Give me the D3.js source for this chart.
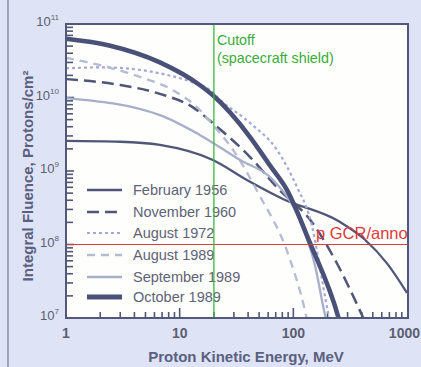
<!DOCTYPE html>
<html>
<head>
<meta charset="utf-8">
<script src="https://cdn.jsdelivr.net/npm/d3@7"></script>
<style>
  html, body { margin: 0; padding: 0; background: #dee3f5; }
  svg { display: block; font-family: "Liberation Sans", Arial, Helvetica, sans-serif; }
</style>
</head>
<body>
<svg id="chart" width="421" height="367"></svg>
<script>
// Integral proton fluence spectra of major solar particle events
const seriesNames = ["February 1956", "November 1960", "August 1972",
                     "August 1989", "September 1989", "October 1989"];

// Energy (MeV) and integral fluence (protons/cm²) for each event
const feb1956E = [1, 3, 6.7, 19.6, 39, 81, 256, 425, 670, 1000];
const feb1956F = [2.57e9, 2.5e9, 2.26e9, 1.41e9, 7.55e8, 4.17e8, 2.04e8, 1.17e8, 5.5e7, 2.2e7];

const nov1960E = [1, 3, 6.7, 13, 19.6, 41.6, 71.6, 148, 241, 410];
const nov1960F = [1.78e10, 1.48e10, 1.12e10, 7.4e9, 4.47e9, 1.55e9, 6.0e8, 1.95e8, 5.6e7, 1.02e7];

const aug1972E = [1, 2.1, 13, 18.5, 22.7, 41.6, 71.6, 108, 140, 202, 210];
const aug1972F = [2.5e10, 2.57e10, 1.62e10, 1.26e10, 9.3e9, 4.5e9, 1.95e9, 6.0e8, 2.3e8, 1.2e7, 9e6];

const aug1989E = [1, 2, 4.5, 8.7, 15, 18.5, 30, 48.8, 93.7, 126, 135];
const aug1989F = [3.47e10, 2.75e10, 1.9e10, 1.26e10, 6.8e9, 4.7e9, 1.86e9, 5.1e8, 6.2e7, 1.3e7, 8e6];

const sep1989E = [1, 6.7, 15, 34, 66, 114, 155, 190, 196];
const sep1989F = [9.8e9, 5.75e9, 3.1e9, 1.41e9, 7.6e8, 2.14e8, 5.2e7, 1.1e7, 9e6];

const oct1989E = [1, 2.4, 6.7, 15, 19.6, 41.6, 62, 88, 140, 250, 260];
const oct1989F = [6.3e10, 5.1e10, 3.0e10, 1.48e10, 1.07e10, 2.9e9, 1.2e9, 5.5e8, 1.05e8, 1.0e7, 8e6];

const xTickLabels = ["1", "10", "100", "1000"];
const xTickValues = [1, 10, 100, 1000];
const yTickValues = [1e7, 1e8, 1e9, 1e10, 1e11];
const yTickExponents = ["7", "8", "9", "10", "11"];

const cutoffEnergy = 20;      // MeV, spacecraft shielding
const gcrFluence = 1e8;       // protons/cm² per year

// Line styles per event
const styles = [
  { color: "#4f5677", width: 2.3, dash: null },
  { color: "#4f5677", width: 2.5, dash: "12,6" },
  { color: "#a3a9d6", width: 2.2, dash: "3,3" },
  { color: "#b4bbd3", width: 2.3, dash: "8,6" },
  { color: "#a7afcb", width: 2.3, dash: null },
  { color: "#4a5178", width: 4.6, dash: null }
];

const allE = [feb1956E, nov1960E, aug1972E, aug1989E, sep1989E, oct1989E];
const allF = [feb1956F, nov1960F, aug1972F, aug1989F, sep1989F, oct1989F];

const svg = d3.select("#chart");
const W = 421, H = 367;
const plotL = 66, plotR = 408, plotT = 24, plotB = 318;

const x = d3.scaleLog().domain([1, 1000]).range([plotL, 407]);
const y = d3.scaleLog().domain([1e7, 1e11]).range([plotB, plotT]);

// page background and side rule
svg.append("rect").attr("width", W).attr("height", H).attr("fill", "#dee3f5");
svg.append("line").attr("x1", 8).attr("x2", 8).attr("y1", 0).attr("y2", H)
  .attr("stroke", "#767b92").attr("stroke-width", 1.2);

// plot area
svg.append("rect").attr("x", plotL).attr("y", plotT)
  .attr("width", plotR - plotL).attr("height", plotB - plotT)
  .attr("fill", "#fefefc");

svg.append("defs").append("clipPath").attr("id", "plotClip")
  .append("rect").attr("x", plotL).attr("y", plotT)
  .attr("width", plotR - plotL).attr("height", plotB - plotT);

const isDecade = v => Math.abs(Math.log10(v) - Math.round(Math.log10(v))) < 1e-9;

// minor / major ticks on the x axis, pointing inward
const xt = x.ticks().filter(v => v > 1 && v < 1000);
svg.append("g").selectAll("line").data(xt).join("line")
  .attr("x1", d => x(d)).attr("x2", d => x(d))
  .attr("y1", plotB)
  .attr("y2", d => plotB - (isDecade(d) ? 10 : 6))
  .attr("stroke", "#4f5677").attr("stroke-width", 1.6);

// ticks on the y axis, pointing inward
const yt = y.ticks().filter(v => v > 1e7 && v < 1e11);
svg.append("g").selectAll("line").data(yt).join("line")
  .attr("x1", plotL).attr("x2", d => plotL + (isDecade(d) ? 8 : 7))
  .attr("y1", d => y(d)).attr("y2", d => y(d))
  .attr("stroke", "#4f5677").attr("stroke-width", 1.6);

// event curves
const plot = svg.append("g").attr("clip-path", "url(#plotClip)");
const line = d3.line().x(d => x(d[0])).y(d => y(d[1])).curve(d3.curveMonotoneX);
allE.forEach((E, i) => {
  const pts = E.map((e, k) => [e, allF[i][k]]);
  const s = styles[i];
  plot.append("path").attr("d", line(pts))
    .attr("fill", "none").attr("stroke", s.color)
    .attr("stroke-width", s.width)
    .attr("stroke-dasharray", s.dash)
    .attr("stroke-linecap", "butt");
});

// legend
const legendY = [190, 212, 233, 255, 277, 297];
const lg = svg.append("g");
seriesNames.forEach((name, i) => {
  const s = styles[i];
  lg.append("line").attr("x1", 87).attr("x2", 122)
    .attr("y1", legendY[i]).attr("y2", legendY[i])
    .attr("stroke", s.color).attr("stroke-width", i === 5 ? 5 : s.width)
    .attr("stroke-dasharray", s.dash);
  lg.append("text").attr("x", 133).attr("y", legendY[i] + 5)
    .attr("font-size", 14.5).attr("fill", "#5e6277").text(name);
});

// GCR reference line
plot.append("line").attr("x1", plotL).attr("x2", plotR)
  .attr("y1", y(gcrFluence)).attr("y2", y(gcrFluence))
  .attr("stroke", "#e03a3a").attr("stroke-width", 1.1);
svg.append("text").attr("x", 316).attr("y", y(gcrFluence) - 6)
  .attr("font-size", 16.5).attr("fill", "#e03a3a").text("p GCR/anno");

// shielding cutoff
svg.append("line").attr("x1", x(cutoffEnergy)).attr("x2", x(cutoffEnergy))
  .attr("y1", plotT).attr("y2", plotB)
  .attr("stroke", "#3cb83c").attr("stroke-width", 1.3);
svg.append("text").attr("x", x(cutoffEnergy) + 3).attr("y", 45)
  .attr("font-size", 14.3).attr("fill", "#3aac3a").text("Cutoff");
svg.append("text").attr("x", x(cutoffEnergy) + 3).attr("y", 63)
  .attr("font-size", 14.3).attr("fill", "#3aac3a").text("(spacecraft shield)");

// plot frame
svg.append("rect").attr("x", plotL).attr("y", plotT)
  .attr("width", plotR - plotL).attr("height", plotB - plotT)
  .attr("fill", "none").attr("stroke", "#515878").attr("stroke-width", 2);

// x tick labels (the last one kept inside the page edge)
svg.append("g").selectAll("text").data(xTickValues).join("text")
  .attr("x", (d, i) => i === xTickValues.length - 1 ? W - 1 : x(d))
  .attr("y", 338)
  .attr("text-anchor", (d, i) => i === xTickValues.length - 1 ? "end" : "middle")
  .attr("font-size", 14)
  .attr("font-weight", "bold").attr("fill", "#5b5f72")
  .text((d, i) => xTickLabels[i]);

// y tick labels with superscript exponents
const yl = svg.append("g").selectAll("text").data(yTickValues).join("text")
  .attr("x", 59).attr("y", d => y(d) + 2)
  .attr("text-anchor", "end").attr("font-size", 13).attr("fill", "#5b5f72");
yl.append("tspan").text("10");
yl.append("tspan").attr("dy", -6).attr("font-size", 8)
  .text((d, i) => yTickExponents[i]);

// axis titles
svg.append("text").attr("x", 246).attr("y", 362)
  .attr("text-anchor", "middle").attr("font-size", 15)
  .attr("font-weight", "bold").attr("fill", "#5a6080")
  .text("Proton Kinetic Energy, MeV");

svg.append("text")
  .attr("transform", "translate(33,176) rotate(-90)")
  .attr("text-anchor", "middle").attr("font-size", 15)
  .attr("font-weight", "bold").attr("fill", "#5a6080")
  .text("Integral Fluence, Protons/cm²");
</script>
</body>
</html>
